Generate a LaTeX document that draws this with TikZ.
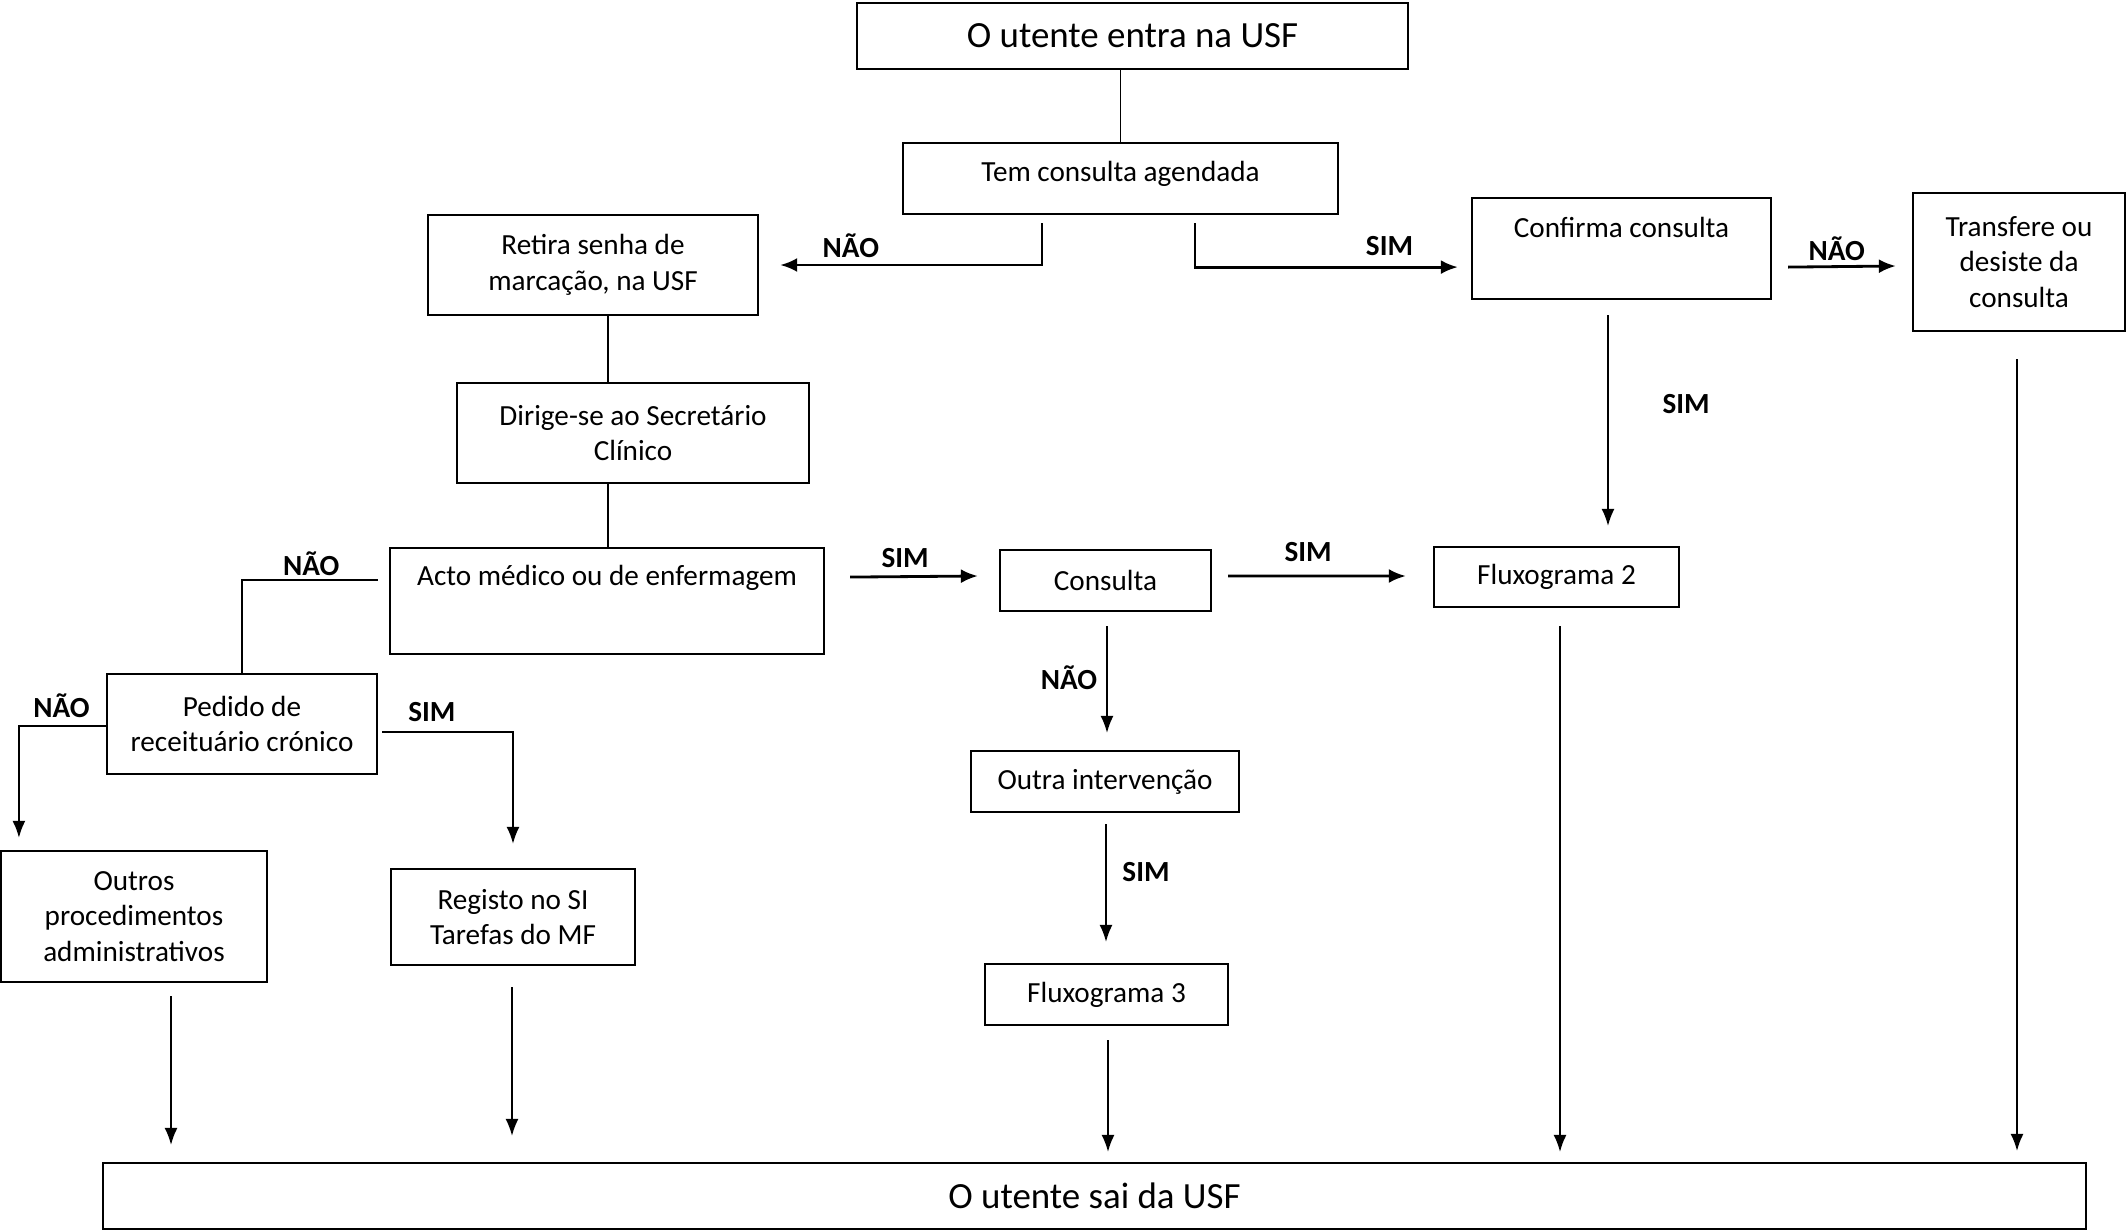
\documentclass[tikz,border=0pt]{standalone}
\usepackage{fontspec}
\setmainfont{Carlito}
\usetikzlibrary{arrows.meta}

\begin{document}
\begin{tikzpicture}[x=0.01cm,y=-0.01cm,
    box/.style={draw, line width=0.6pt, inner sep=0pt, align=center,
      font=\fontsize{8.3}{10.2}\selectfont},
    bigbox/.style={box, font=\fontsize{10.5}{12.6}\selectfont},
    lbl/.style={inner sep=0pt, font=\fontsize{8.3}{10}\selectfont\bfseries},
    link/.style={line width=0.45pt},
    arr/.style={line width=0.5pt, -{Latex[length=1.7mm,width=1.3mm]}},
    bigarr/.style={line width=0.8pt, -{Latex[length=1.7mm,width=1.4mm]}}]
  \useasboundingbox (0,0) rectangle (2127,1230);

  \node[bigbox, minimum width=5.51cm, minimum height=0.66cm] (entra) at (1132.5,36) {O utente entra na USF};
  \node[box, minimum width=4.35cm, text height=0.38cm, text depth=0.33cm, anchor=north] (tem) at (1120.5,142) {Tem consulta agendada};
  \node[box, minimum width=3.30cm, minimum height=1.00cm] (retira) at (593,265) {Retira senha de\\marcação, na USF};
  \node[box, minimum width=2.99cm, text height=0.39cm, text depth=0.62cm, anchor=north] (confirma) at (1621.5,197) {Confirma consulta};
  \node[box, minimum width=2.12cm, minimum height=1.38cm] (transfere) at (2019,262) {Transfere ou\\desiste da\\consulta};
  \node[box, minimum width=3.52cm, minimum height=1.00cm] (dirige) at (633,433) {Dirige-se ao Secretário\\Clínico};
  \node[box, minimum width=4.34cm, text height=0.37cm, text depth=0.69cm, anchor=north] (acto) at (607,547) {Acto médico ou de enfermagem};
  \node[box, minimum width=2.11cm, minimum height=0.61cm] (consulta) at (1105.5,580.5) {Consulta};
  \node[box, minimum width=2.45cm, minimum height=0.60cm] (flux2) at (1556.5,577) {Fluxograma 2};
  \node[box, minimum width=2.70cm, minimum height=1.00cm] (pedido) at (242,724) {Pedido de\\receituário crónico};
  \node[box, minimum width=2.68cm, minimum height=0.61cm] (outra) at (1105,781.5) {Outra intervenção};
  \node[box, minimum width=2.66cm, minimum height=1.31cm] (outros) at (134,916.5) {Outros\\procedimentos\\administrativos};
  \node[box, minimum width=2.44cm, minimum height=0.96cm] (registo) at (513,917) {Registo no SI\\Tarefas do MF};
  \node[box, minimum width=2.43cm, minimum height=0.61cm] (flux3) at (1106.5,994.5) {Fluxograma 3};
  \node[bigbox, minimum width=19.81cm, minimum height=0.66cm] (sai) at (1094.5,1196) {O utente sai da USF};

  \draw[link] (tem.north) -- (tem.north |- entra.south);
  \draw[link] ([xshift=1.5mm]retira.south) -- ([xshift=1.5mm]retira.south |- dirige.north);
  \draw[link] ([xshift=-2.5mm]dirige.south) -- ([xshift=-2.5mm]dirige.south |- acto.north);

  \draw[bigarr] ([xshift=-7.85mm,yshift=-0.8mm]tem.south) |- node[lbl, pos=0.865, yshift=1.9mm] (n1) {NÃO} ([xshift=2.1mm]retira.east);
  \draw[bigarr] ([xshift=7.45mm,yshift=-0.8mm]tem.south) |- node[lbl, pos=0.87, yshift=2.1mm] (s1) {SIM} ([xshift=-1.3mm,yshift=-1.85mm]confirma.west);
  \draw[bigarr] ([xshift=1.6mm,yshift=-1.85mm]confirma.east) -- node[lbl, pos=0.45, yshift=1.8mm] (n2) {NÃO} ([xshift=-1.6mm,yshift=-0.4mm]transfere.west);
  \draw[arr] ([xshift=-1.35mm,yshift=-1.5mm]confirma.south) -- node[lbl, pos=0.42, xshift=7.8mm] (s5) {SIM} ([xshift=-1.35mm,yshift=2mm]confirma.south |- flux2.north);

  \draw[link, line width=0.6pt] ([xshift=-1.1mm,yshift=2.1mm]acto.west) -| node[lbl, pos=0.245, yshift=1.6mm] (n3) {NÃO} (pedido.north);
  \draw[bigarr] ([xshift=2.5mm,yshift=2.4mm]acto.east) -- node[lbl, pos=0.43, yshift=1.9mm] (s3) {SIM} ([xshift=-2.1mm,yshift=0.45mm]consulta.west);
  \draw[bigarr] ([xshift=1.6mm,yshift=0.45mm]consulta.east) -- node[lbl, pos=0.45, yshift=2.4mm] (s4) {SIM} ([xshift=-2.7mm,yshift=0.1mm]flux2.west);
  \draw[arr] ([xshift=0.15mm,yshift=-1.4mm]consulta.south) -- node[lbl, pos=0.48, xshift=-3.8mm] (n5) {NÃO} ([xshift=0.15mm,yshift=1.7mm]consulta.south |- outra.north);
  \draw[arr] ([xshift=0.1mm,yshift=-1.1mm]outra.south) -- node[lbl, pos=0.41, xshift=4mm] (s6) {SIM} ([xshift=0.1mm,yshift=2.1mm]outra.south |- flux3.north);

  \draw[arr, line width=0.6pt] ([yshift=-0.2mm]pedido.west) -| node[lbl, pos=0.255, yshift=2mm] (n4) {NÃO} ([xshift=-11.5mm,yshift=1.2mm]outros.north);
  \draw[arr, line width=0.6pt] ([xshift=0.4mm,yshift=-0.8mm]pedido.east) -| node[lbl, pos=0.19, yshift=2mm] (s2) {SIM} ([yshift=2.4mm]registo.north);

  \foreach \n/\dx/\ga/\gb in {outros/3.7/1.3/1.7, registo/-0.1/2.1/2.6, flux3/0.15/1.4/1.0, flux2/0.35/1.8/1.0, transfere/-0.2/2.7/1.1}{
    \draw[arr] ([xshift=\dx mm,yshift=-\ga mm]\n.south) -- ([xshift=\dx mm,yshift=\gb mm]\n.south |- sai.north);
  }
\end{tikzpicture}
\end{document}
